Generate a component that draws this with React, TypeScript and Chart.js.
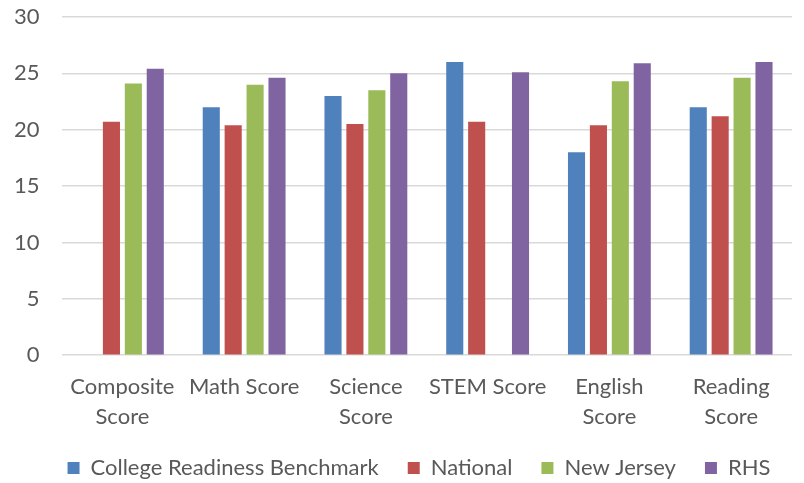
import React, { useEffect, useRef } from "react";
import { Chart, registerables } from "chart.js";

Chart.register(...registerables);

const categories: (string | string[])[] = [
  ["Composite", "Score"],
  "Math Score",
  ["Science", "Score"],
  "STEM Score",
  ["English", "Score"],
  ["Reading", "Score"],
];
const benchmark: (number | null)[] = [null, 22, 23, 26, 18, 22];
const national: (number | null)[] = [20.7, 20.4, 20.5, 20.7, 20.4, 21.2];
const newJersey: (number | null)[] = [24.1, 24.0, 23.5, null, 24.3, 24.6];
const rhs: (number | null)[] = [25.4, 24.6, 25.0, 25.1, 25.9, 26.0];
const yTicks = { min: 0, max: 30, step: 5 };

const FONT = "Lato, 'Open Sans', sans-serif";
const TEXT = "#595959";

const legendShift = {
  id: "legendShift",
  afterLayout(chart: any) {
    const l = chart.legend;
    if (l) {
      l.left += 27;
      l.right += 27;
    }
  },
};

export default function App() {
  const ref = useRef<HTMLCanvasElement | null>(null);
  useEffect(() => {
    if (!ref.current) return;
    const ds = (label: string, data: (number | null)[], color: string) => ({
      label,
      data,
      backgroundColor: color,
      borderWidth: 0,
      categoryPercentage: 0.72,
      barPercentage: 0.78,
    });
    const chart = new Chart(ref.current, {
      type: "bar",
      data: {
        labels: categories,
        datasets: [
          ds("College Readiness Benchmark", benchmark, "#4f81bd"),
          ds("National", national, "#c0504d"),
          ds("New Jersey", newJersey, "#9bbb59"),
          ds("RHS", rhs, "#8064a2"),
        ],
      },
      plugins: [legendShift],
      options: {
        responsive: true,
        maintainAspectRatio: false,
        animation: false,
        layout: { padding: { left: -8, right: 12, top: 17, bottom: -6 } },
        plugins: {
          tooltip: { enabled: false },
          legend: {
            position: "bottom",
            labels: {
              boxWidth: 12,
              boxHeight: 12,
              padding: 29,
              color: TEXT,
              font: { family: FONT, size: 22 },
            },
          },
        },
        scales: {
          x: {
            grid: { display: false },
            border: { display: false },
            ticks: {
              color: TEXT,
              font: { family: FONT, size: 22, lineHeight: 1.36 },
              maxRotation: 0,
              autoSkip: false,
              padding: 9,
            },
            afterFit(scale: any) {
              scale.height -= 13;
            },
          },
          y: {
            min: yTicks.min,
            max: yTicks.max,
            grid: { color: "#d9d9d9", lineWidth: 1.5, drawTicks: false },
            border: { display: false },
            ticks: {
              stepSize: yTicks.step,
              color: TEXT,
              font: { family: FONT, size: 22 },
              padding: 22,
            },
            afterFit(scale: any) {
              scale.paddingTop = 0;
              scale.paddingBottom = 0;
            },
          },
        },
      },
    });
    return () => chart.destroy();
  }, []);
  return (
    <div style={{ position: "fixed", left: 0, top: 0, width: 804, height: 483, background: "#fff" }}>
      <canvas ref={ref} />
    </div>
  );
}
